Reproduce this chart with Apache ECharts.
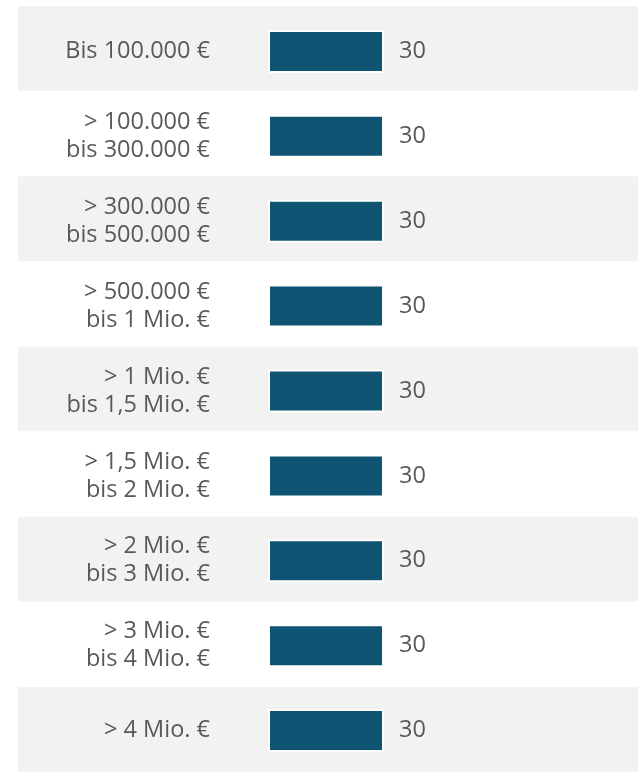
<!DOCTYPE html>
<html>
<head>
<meta charset="utf-8">
<script src="https://cdn.jsdelivr.net/npm/echarts@6/dist/echarts.min.js"></script>
<style>
  html, body { margin: 0; padding: 0; background: #fff; }
  #chart { width: 638px; height: 773px; }
</style>
</head>
<body>
<div id="chart"></div>
<script>
// Umsatzklassen (von oben nach unten)
const categories = [
    'Bis 100.000 €',
    '> 100.000 €\nbis 300.000 €',
    '> 300.000 €\nbis 500.000 €',
    '> 500.000 €\nbis 1 Mio. €',
    '> 1 Mio. €\nbis 1,5 Mio. €',
    '> 1,5 Mio. €\nbis 2 Mio. €',
    '> 2 Mio. €\nbis 3 Mio. €',
    '> 3 Mio. €\nbis 4 Mio. €',
    '> 4 Mio. €'
];
const values = [30, 30, 30, 30, 30, 30, 30, 30, 30];

const FONT = 'Open Sans';
const TEXT = '#595959';

let chart = echarts.init(document.getElementById('chart'), null, { renderer: 'canvas' });

chart.setOption({
    animation: false,
    backgroundColor: '#ffffff',
    grid: [
        // background bands
        { left: 18, right: 0, top: 6, bottom: 1 },
        // bars (slightly lower than the band centres, as in the original)
        { left: 268, right: 254, top: 9, bottom: -2 }
    ],
    xAxis: [
        { gridIndex: 0, type: 'value', min: 0, max: 1, show: false },
        { gridIndex: 1, type: 'value', min: 0, max: 30, show: false }
    ],
    yAxis: [
        {
            gridIndex: 0, type: 'category', data: categories, inverse: true,
            axisLine: { show: false }, axisTick: { show: false }, axisLabel: { show: false },
            splitLine: { show: false },
            splitArea: { show: true, areaStyle: { color: ['#f2f2f2', '#ffffff'] } }
        },
        {
            gridIndex: 1, type: 'category', data: categories, inverse: true,
            axisLine: { show: false }, axisTick: { show: false },
            axisLabel: {
                margin: 58, color: TEXT, fontFamily: FONT, fontSize: 23.5,
                lineHeight: 28, align: 'right'
            }
        }
    ],
    series: [{
        type: 'bar',
        xAxisIndex: 1, yAxisIndex: 1,
        data: values,
        barWidth: 43,
        itemStyle: { color: '#0f5473', borderColor: '#ffffff', borderWidth: 2 },
        label: {
            show: true, position: 'right', distance: 15,
            color: TEXT, fontFamily: FONT, fontSize: 23.5
        }
    }]
});
</script>
</body>
</html>
